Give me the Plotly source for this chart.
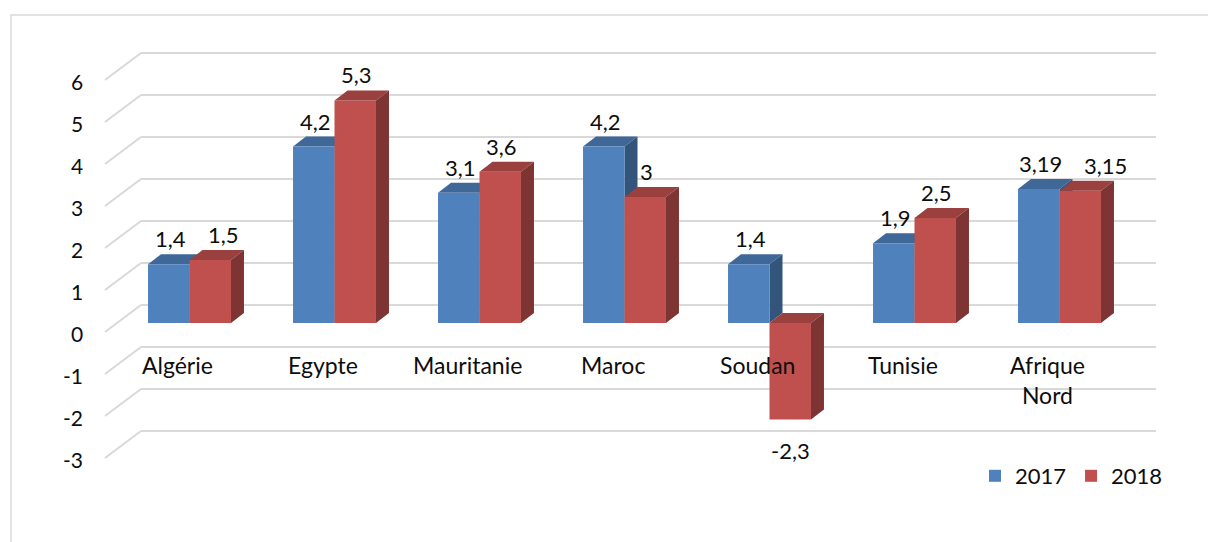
import plotly.graph_objects as go

# Real GDP growth (%) by country
categories = ["Algérie", "Egypte", "Mauritanie", "Maroc", "Soudan", "Tunisie", "Afrique<br>Nord"]
values_2017 = [1.4, 4.2, 3.1, 4.2, 1.4, 1.9, 3.19]
values_2018 = [1.5, 5.3, 3.6, 3.0, -2.3, 2.5, 3.15]
y_ticks = [6, 5, 4, 3, 2, 1, 0, -1, -2, -3]
series_names = ["2017", "2018"]

W, H = 1208, 542
PX_CAT = 145.0      # pixels per category
PX_UNIT = 42.0      # pixels per value unit
X0_PX = 189.5       # pixel of first category centre
Y0_PX = 323.0       # pixel of value 0 on the bar plane

BAR_W = 0.286
# pseudo-3D depth of a bar (data units)
DDX = 13 / PX_CAT
DDY = 10 / PX_UNIT
# offsets of the floor front edge and back wall from the bar plane
FRONT_DX, FRONT_DY = -12 / PX_CAT, -9 / PX_UNIT
BACK_DX, BACK_DY = 24 / PX_CAT, 18 / PX_UNIT

BLUE, BLUE_TOP, BLUE_SIDE = "#4F81BD", "#3F6797", "#33547B"
RED, RED_TOP, RED_SIDE = "#C0504D", "#9A403E", "#7D3432"
GRID = "#D9D9D9"
TXT = "#0d0d0d"
FONT = "Lato"
LABEL_SIZE = 22

x_range = [(0 - X0_PX) / PX_CAT, (W - X0_PX) / PX_CAT]
y_range = [(Y0_PX - H) / PX_UNIT, (Y0_PX - 0) / PX_UNIT]

def fmt(v):
    return f"{v:g}".replace(".", ",")

def poly(pts, color, layer):
    path = "M " + " L ".join(f"{x},{y}" for x, y in pts) + " Z"
    return dict(type="path", path=path, xref="x", yref="y", fillcolor=color,
                line=dict(width=0), layer=layer)

fig = go.Figure()
shapes = []
annotations = []

# back wall gridlines with their diagonal floor edges
n = len(categories)
for v in y_ticks:
    shapes.append(dict(type="line", xref="x", yref="y",
                       x0=-0.5 + BACK_DX, x1=n - 0.5 + BACK_DX,
                       y0=v + BACK_DY, y1=v + BACK_DY,
                       line=dict(color=GRID, width=2), layer="below"))
    shapes.append(dict(type="line", xref="x", yref="y",
                       x0=-0.5 + FRONT_DX, x1=-0.5 + BACK_DX,
                       y0=v + FRONT_DY, y1=v + BACK_DY,
                       line=dict(color=GRID, width=2), layer="below"))
    annotations.append(dict(x=(85 - X0_PX) / PX_CAT, y=v + FRONT_DY, xref="x", yref="y",
                            text=str(v), showarrow=False, xanchor="right", yanchor="middle",
                            yshift=-1, font=dict(family=FONT, size=21, color=TXT)))

xs = list(range(n))
series = [(values_2017, -BAR_W, BLUE, BLUE_TOP, BLUE_SIDE, "below"),
          (values_2018, 0.0, RED, RED_TOP, RED_SIDE, "above")]

for k, ((vals, off, col, top_col, side_col, layer), name) in enumerate(zip(series, series_names)):
    fig.add_trace(go.Bar(x=xs, y=vals, width=BAR_W, offset=off, name=name,
                         marker=dict(color=col, line=dict(width=0)),
                         hoverinfo="skip"))
    for i, v in enumerate(vals):
        x0 = i + off
        x1 = x0 + BAR_W
        top = max(v, 0)
        bot = min(v, 0)
        # top face
        shapes.append(poly([(x0, top), (x1, top), (x1 + DDX, top + DDY), (x0 + DDX, top + DDY)],
                           top_col, layer))
        # right side face
        shapes.append(poly([(x1, bot), (x1, top), (x1 + DDX, top + DDY), (x1 + DDX, bot + DDY)],
                           side_col, layer))
        # value label; push the second label right when both bars are nearly level
        nudge = 0
        if k == 1 and v >= 0:
            gap = abs(values_2017[i] - v)
            if gap < 0.1:
                nudge = 24
            elif gap < 0.2:
                nudge = 12
        if v >= 0:
            annotations.append(dict(x=x0 + BAR_W / 2 + 0.01, y=v + DDY, xref="x", yref="y",
                                    text=fmt(v), showarrow=False, xanchor="center",
                                    yanchor="bottom", yshift=0, xshift=nudge,
                                    font=dict(family=FONT, size=LABEL_SIZE, color=TXT)))
        else:
            annotations.append(dict(x=x0 + BAR_W / 2, y=v, xref="x", yref="y",
                                    text=fmt(v), showarrow=False, xanchor="center",
                                    yanchor="top", yshift=-15,
                                    font=dict(family=FONT, size=LABEL_SIZE, color=TXT)))

# category labels along the front edge of the floor
for i, c in enumerate(categories):
    annotations.append(dict(x=i + FRONT_DX, y=FRONT_DY, xref="x", yref="y",
                            text=c, showarrow=False, xanchor="center", yanchor="top",
                            yshift=-17, font=dict(family=FONT, size=23, color=TXT)))

# chart area border
shapes.append(dict(type="rect", xref="paper", yref="paper",
                   x0=11 / W, x1=1.01, y0=-0.01, y1=1 - 15 / H,
                   line=dict(color=GRID, width=1.5), fillcolor="rgba(0,0,0,0)", layer="below"))

fig.update_layout(
    width=W, height=H,
    margin=dict(l=0, r=0, t=0, b=0, autoexpand=False),
    paper_bgcolor="white", plot_bgcolor="white",
    barmode="overlay",
    xaxis=dict(range=x_range, visible=False, fixedrange=True),
    yaxis=dict(range=y_range, visible=False, fixedrange=True),
    shapes=shapes,
    annotations=annotations,
    showlegend=True,
    legend=dict(orientation="h", x=975 / W, y=1 - 476 / H, xanchor="left", yanchor="middle",
                font=dict(family=FONT, size=22, color=TXT), bgcolor="rgba(0,0,0,0)",
                itemwidth=30, traceorder="normal"),
)

fig.write_html("out.html")
